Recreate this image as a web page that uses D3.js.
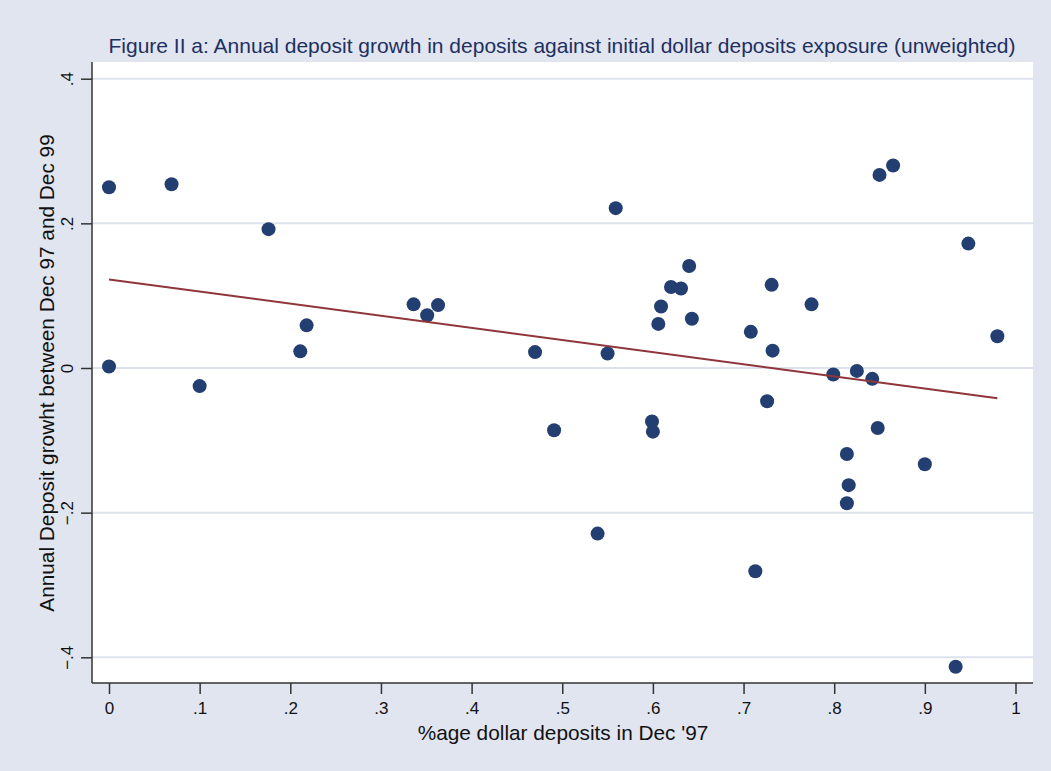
<!DOCTYPE html>
<html>
<head>
<meta charset="utf-8">
<script src="https://cdn.jsdelivr.net/npm/d3@7"></script>
<style>
  html, body { margin: 0; padding: 0; background: #e1e5f0; }
  svg { display: block; font-family: "Liberation Sans", Arial, sans-serif; }
</style>
</head>
<body>
<script>
// Share of dollar deposits in Dec '97 for each bank
const dollarShare = [
  0.000, 0.000, 0.069, 0.100, 0.176, 0.211, 0.218, 0.336, 0.351, 0.363,
  0.470, 0.491, 0.539, 0.550, 0.559, 0.599, 0.600, 0.606, 0.609, 0.620,
  0.631, 0.640, 0.643, 0.708, 0.713, 0.726, 0.731, 0.732, 0.775, 0.799,
  0.814, 0.816, 0.814, 0.825, 0.842, 0.848, 0.850, 0.865, 0.900, 0.934,
  0.948, 0.980
];
// Annual deposit growth between Dec 97 and Dec 99
const depositGrowth = [
  0.250, 0.002, 0.254, -0.025, 0.192, 0.023, 0.059, 0.088, 0.073, 0.087,
  0.022, -0.086, -0.229, 0.020, 0.221, -0.074, -0.088, 0.061, 0.085, 0.112,
  0.110, 0.141, 0.068, 0.050, -0.281, -0.046, 0.115, 0.024, 0.088, -0.009,
  -0.119, -0.162, -0.187, -0.004, -0.015, -0.083, 0.267, 0.280, -0.133, -0.413,
  0.172, 0.044
];
const xTicks = [0, 0.1, 0.2, 0.3, 0.4, 0.5, 0.6, 0.7, 0.8, 0.9, 1];
const yTicks = [-0.4, -0.2, 0, 0.2, 0.4];

const title = "Figure II a: Annual deposit growth in deposits against initial dollar deposits exposure (unweighted)";
const xTitle = "%age dollar deposits in Dec '97";
const yTitle = "Annual Deposit growht between Dec 97 and Dec 99";

const W = 1051, H = 771;
const plot = { left: 92, right: 1033, top: 62, bottom: 683 };

const x = d3.scaleLinear().domain([0, 1]).range([109, 1015.5]);
const y = d3.scaleLinear().domain([-0.4, 0.4]).range([657.3, 78.7]);

// Stata-style labels: drop the leading zero
const fmt = v => {
  if (v === 0) return "0";
  if (v === 1) return "1";
  return d3.format(".1f")(v).replace("0.", ".");
};

const svg = d3.select("body").append("svg").attr("width", W).attr("height", H);

svg.append("rect").attr("width", W).attr("height", H).attr("fill", "#e1e5f0");
svg.append("rect")
  .attr("x", plot.left).attr("y", plot.top)
  .attr("width", plot.right - plot.left).attr("height", plot.bottom - plot.top)
  .attr("fill", "#ffffff");

// horizontal grid lines
svg.append("g").selectAll("line").data(yTicks).join("line")
  .attr("x1", plot.left).attr("x2", plot.right)
  .attr("y1", d => y(d)).attr("y2", d => y(d))
  .attr("stroke", "#dde2ee").attr("stroke-width", 2);

// Least squares fit over the observed range
const n = dollarShare.length;
const mx = d3.mean(dollarShare), my = d3.mean(depositGrowth);
let sxy = 0, sxx = 0;
for (let i = 0; i < n; i++) {
  sxy += (dollarShare[i] - mx) * (depositGrowth[i] - my);
  sxx += (dollarShare[i] - mx) ** 2;
}
const slope = sxy / sxx, intercept = my - slope * mx;
const [xmin, xmax] = d3.extent(dollarShare);
const fitPts = [xmin, xmax].map(v => [v, intercept + slope * v]);

// scatter points
svg.append("g").selectAll("circle")
  .data(d3.range(n)).join("circle")
  .attr("cx", i => x(dollarShare[i]))
  .attr("cy", i => y(depositGrowth[i]))
  .attr("r", 7)
  .attr("fill", "#233e70");

svg.append("path")
  .attr("d", d3.line().x(d => x(d[0])).y(d => y(d[1]))(fitPts))
  .attr("fill", "none").attr("stroke", "#90353b").attr("stroke-width", 2);

// x axis
const xAxis = d3.axisBottom(x).tickValues(xTicks).tickFormat(fmt).tickSize(11).tickPadding(8);
const gx = svg.append("g").attr("transform", `translate(0,${plot.bottom})`).call(xAxis);
gx.select(".domain").attr("d", `M${plot.left},0H${plot.right}`).attr("stroke", "#333").attr("stroke-width", 1.5);
gx.selectAll(".tick line").attr("stroke", "#333").attr("stroke-width", 1.5);
gx.selectAll(".tick text").attr("font-size", 17).attr("fill", "#111").attr("font-family", "Liberation Sans, Arial, sans-serif");

// y axis
const yAxis = d3.axisLeft(y).tickValues(yTicks).tickFormat(fmt).tickSize(11).tickPadding(6);
const gy = svg.append("g").attr("transform", `translate(${plot.left},0)`).call(yAxis);
gy.select(".domain").attr("d", `M0,${plot.top}V${plot.bottom}`).attr("stroke", "#333").attr("stroke-width", 1.5);
gy.selectAll(".tick line").attr("stroke", "#333").attr("stroke-width", 1.5);
gy.selectAll(".tick text")
  .attr("font-size", 17).attr("fill", "#111").attr("font-family", "Liberation Sans, Arial, sans-serif")
  .attr("x", null)
  .attr("text-anchor", "middle")
  .attr("transform", "translate(-25,0) rotate(-90)")
  .attr("y", 0).attr("dy", "0.35em");

// titles
svg.append("text")
  .attr("x", 562).attr("y", 53)
  .attr("text-anchor", "middle")
  .attr("font-size", 21).attr("fill", "#1e3060")
  .text(title);

svg.append("text")
  .attr("x", 563).attr("y", 740)
  .attr("text-anchor", "middle")
  .attr("font-size", 20.8).attr("fill", "#111")
  .text(xTitle);

svg.append("text")
  .attr("transform", `translate(54,373) rotate(-90)`)
  .attr("text-anchor", "middle")
  .attr("font-size", 20.8).attr("fill", "#111")
  .text(yTitle);
</script>
</body>
</html>
